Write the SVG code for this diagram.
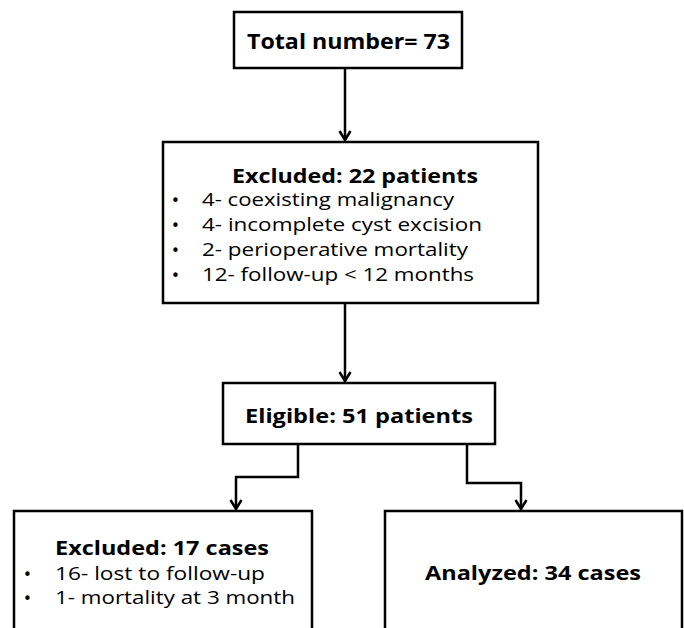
<svg xmlns="http://www.w3.org/2000/svg" width="684" height="628" viewBox="0 0 684 628">
<style>
.box{fill:#fff;stroke:#000;stroke-width:2.5}
.t{font-family:"Open Sans","Noto Sans",sans-serif;fill:#000}
.b{font-weight:bold}
.c{fill:none;stroke:#000;stroke-width:2.5}
.bl{font-family:"DejaVu Sans",sans-serif;font-size:15px;fill:#000}
</style>
<g id="connectors">
<path class="c" d="M345,68 V140"/>
<path class="c" d="M339.5,131 L345,140 L350.5,131"/>
<path class="c" d="M345,303 V381"/>
<path class="c" d="M339.5,372 L345,381 L350.5,372"/>
<path class="c" d="M298,444 V477 H236 V509"/>
<path class="c" d="M230.5,500 L236,509 L241.5,500"/>
<path class="c" d="M467,444 V483 H521 V509"/>
<path class="c" d="M515.5,500 L521,509 L526.5,500"/>
</g>
<g id="total">
<rect class="box" x="234" y="12" width="228" height="56"/>
<text class="t b" x="247" y="49" font-size="22" textLength="203" lengthAdjust="spacingAndGlyphs">Total number= 73</text>
</g>
<g id="excluded22">
<rect class="box" x="163" y="142" width="375" height="161"/>
<text class="t b" x="232" y="183" font-size="19" textLength="246" lengthAdjust="spacingAndGlyphs">Excluded: 22 patients</text>
<text class="bl" x="171" y="206">•</text>
<text class="bl" x="171" y="231">•</text>
<text class="bl" x="171" y="256">•</text>
<text class="bl" x="171" y="281">•</text>
<g class="t" font-size="18">
<text x="202" y="206" textLength="252" lengthAdjust="spacingAndGlyphs">4- coexisting malignancy</text>
<text x="202" y="231" textLength="280" lengthAdjust="spacingAndGlyphs">4- incomplete cyst excision</text>
<text x="202" y="256" textLength="266" lengthAdjust="spacingAndGlyphs">2- perioperative mortality</text>
<text x="202" y="281" textLength="272" lengthAdjust="spacingAndGlyphs">12- follow-up &lt; 12 months</text>
</g>
</g>
<g id="eligible">
<rect class="box" x="223" y="383" width="272" height="61"/>
<text class="t b" x="245" y="423" font-size="19" textLength="228" lengthAdjust="spacingAndGlyphs">Eligible: 51 patients</text>
</g>
<g id="excluded17">
<rect class="box" x="14" y="511" width="298" height="140"/>
<text class="t b" x="55" y="555" font-size="19" textLength="214" lengthAdjust="spacingAndGlyphs">Excluded: 17 cases</text>
<text class="bl" x="23" y="580">•</text>
<text class="bl" x="23" y="604">•</text>
<g class="t" font-size="18">
<text x="55" y="580" textLength="210" lengthAdjust="spacingAndGlyphs">16- lost to follow-up</text>
<text x="55" y="604" textLength="240" lengthAdjust="spacingAndGlyphs">1- mortality at 3 month</text>
</g>
</g>
<g id="analyzed">
<rect class="box" x="385" y="511" width="297" height="140"/>
<text class="t b" x="425" y="580" font-size="19" textLength="216" lengthAdjust="spacingAndGlyphs">Analyzed: 34 cases</text>
</g>
</svg>
